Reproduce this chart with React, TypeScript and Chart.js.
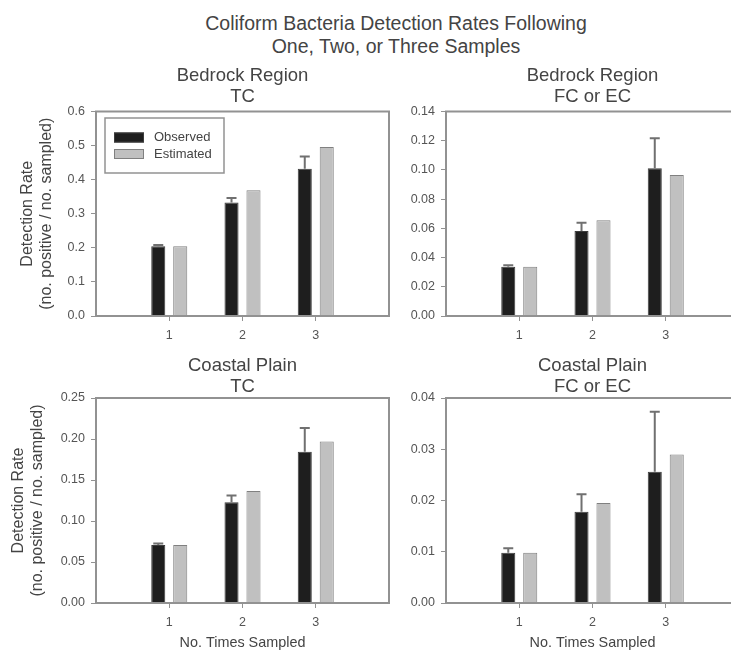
import React, { useEffect, useRef } from 'react';
import { Chart, registerables } from 'chart.js';

Chart.register(...registerables);

// ---------- data ----------
const categories = [1, 2, 3];
const seriesLabels = ['Observed', 'Estimated'];

const bedrockTcObserved = [0.205, 0.333, 0.432];
const bedrockTcObservedErr = [0.003, 0.013, 0.036];
const bedrockTcEstimated = [0.205, 0.369, 0.496];

const bedrockFcObserved = [0.0338, 0.0582, 0.1012];
const bedrockFcObservedErr = [0.001, 0.0057, 0.0205];
const bedrockFcEstimated = [0.0338, 0.0655, 0.0966];

const coastalTcObserved = [0.0706, 0.1228, 0.1843];
const coastalTcObservedErr = [0.002, 0.0082, 0.029];
const coastalTcEstimated = [0.0706, 0.1366, 0.197];

const coastalFcObserved = [0.0098, 0.0178, 0.0256];
const coastalFcObservedErr = [0.0009, 0.0034, 0.0117];
const coastalFcEstimated = [0.0098, 0.0195, 0.029];

const mainTitle = ['Coliform Bacteria Detection Rates Following', 'One, Two, or Three Samples'];
const panelTitles = [
  ['Bedrock Region', 'TC'],
  ['Bedrock Region', 'FC or EC'],
  ['Coastal Plain', 'TC'],
  ['Coastal Plain', 'FC or EC'],
];
const yAxisTitle = ['Detection Rate', '(no. positive / no. sampled)'];
const xAxisTitle = 'No. Times Sampled';

// ---------- style ----------
const FONT = '"Liberation Sans", Arial, Helvetica, sans-serif';
const TEXT = '#444444';
const TICK_TEXT = '#555555';
const AXIS = '#929292';
const ERR = '#707070';
const OBS_FILL = '#1e1e1e';
const OBS_BORDER = '#3c3c3c';
const EST_FILL = '#c0c0c0';
const EST_BORDER = '#808080';

type PanelProps = {
  left: number;
  top: number;
  width: number;
  height: number;
  title: string[];
  obs: number[];
  err: number[];
  est: number[];
  yMax: number;
  yStep: number;
  yDecimals: number;
  yAxisWidth: number;
  xAxisHeight: number;
  padRight: number;
  titlePadTop: number;
  titlePadBottom: number;
  showYTitle: boolean;
  yTitlePad: number;
  showXTitle: boolean;
  showLegend: boolean;
};

function Panel(p: PanelProps) {
  const ref = useRef<HTMLCanvasElement>(null);

  useEffect(() => {
    const canvas = ref.current;
    if (!canvas) return;

    const overlay = {
      id: 'overlay',
      afterDatasetsDraw(chart: any) {
        const { ctx, chartArea: a } = chart;
        ctx.save();
        // error bars on observed
        const meta = chart.getDatasetMeta(0);
        const ys = chart.scales.y;
        ctx.strokeStyle = ERR;
        ctx.lineWidth = 2;
        meta.data.forEach((el: any, i: number) => {
          const yTop = ys.getPixelForValue(p.obs[i] + p.err[i]);
          ctx.beginPath();
          ctx.moveTo(el.x, el.y);
          ctx.lineTo(el.x, yTop);
          ctx.moveTo(el.x - 5, yTop);
          ctx.lineTo(el.x + 5, yTop);
          ctx.stroke();
        });
        // frame
        ctx.strokeStyle = AXIS;
        ctx.lineWidth = 2;
        ctx.strokeRect(a.left, a.top, a.right - a.left, a.bottom - a.top);
        // legend
        if (p.showLegend) {
          const lx = a.left + 9;
          const ly = a.top + 6.5;
          ctx.lineWidth = 1.5;
          ctx.strokeStyle = AXIS;
          ctx.strokeRect(lx, ly, 119, 55);
          chart.data.datasets.forEach((ds: any, i: number) => {
            const cy = a.top + (i === 0 ? 26 : 42.5);
            ctx.fillStyle = ds.backgroundColor;
            ctx.fillRect(lx + 9, cy - 5, 30, 10);
            ctx.lineWidth = 1;
            ctx.strokeStyle = ds.borderColor;
            ctx.strokeRect(lx + 9.5, cy - 4.5, 29, 9);
            ctx.fillStyle = TEXT;
            ctx.font = `13px ${FONT}`;
            ctx.textBaseline = 'middle';
            ctx.textAlign = 'left';
            ctx.fillText(ds.label, lx + 49, cy);
          });
        }
        ctx.restore();
      },
    };

    const chart = new Chart(canvas, {
      type: 'bar',
      data: {
        datasets: [
          {
            label: seriesLabels[0],
            data: categories.map((c, i) => ({ x: c, y: p.obs[i] })),
            backgroundColor: OBS_FILL,
            borderColor: OBS_BORDER,
            borderWidth: 1,
            categoryPercentage: 0.6,
            barPercentage: 0.64,
          },
          {
            label: seriesLabels[1],
            data: categories.map((c, i) => ({ x: c, y: p.est[i] })),
            backgroundColor: EST_FILL,
            borderColor: EST_BORDER,
            borderWidth: 1,
            categoryPercentage: 0.6,
            barPercentage: 0.64,
          },
        ],
      } as any,
      options: {
        responsive: false,
        animation: false,
        devicePixelRatio: 1,
        layout: { padding: { left: 0, right: p.padRight, top: 0, bottom: 0 } },
        plugins: {
          legend: { display: false },
          tooltip: { enabled: false },
          title: {
            display: true,
            text: p.title,
            fullSize: false,
            color: TEXT,
            font: { family: FONT, size: 18.5, weight: 'normal', lineHeight: 21 / 18.5 },
            padding: { top: p.titlePadTop, bottom: p.titlePadBottom },
          },
        },
        scales: {
          x: {
            type: 'linear',
            min: 0,
            max: 4,
            offset: false,
            afterBuildTicks: (s: any) => {
              s.ticks = categories.map((v) => ({ value: v }));
            },
            afterFit: (s: any) => {
              s.height = p.xAxisHeight;
            },
            border: { display: false },
            grid: { drawOnChartArea: false, drawTicks: true, tickLength: 5, color: AXIS, lineWidth: 1, offset: false },
            ticks: {
              autoSkip: false,
              maxRotation: 0,
              padding: 7,
              color: TICK_TEXT,
              font: { family: FONT, size: 12.5 },
              callback: (v: any) => String(v),
            },
            title: {
              display: p.showXTitle,
              text: xAxisTitle,
              color: TEXT,
              font: { family: FONT, size: 14.4, lineHeight: 1 },
              padding: { top: 0, bottom: 0 },
            },
          },
          y: {
            type: 'linear',
            min: 0,
            max: p.yMax,
            afterFit: (s: any) => {
              s.width = p.yAxisWidth;
            },
            border: { display: false },
            grid: { drawOnChartArea: false, drawTicks: true, tickLength: 5, color: AXIS, lineWidth: 1 },
            ticks: {
              stepSize: p.yStep,
              padding: 6,
              color: TICK_TEXT,
              font: { family: FONT, size: 12.5 },
              callback: (v: any) => Number(v).toFixed(p.yDecimals),
            },
            title: {
              display: p.showYTitle,
              text: yAxisTitle,
              color: TEXT,
              font: { family: FONT, size: 16, lineHeight: 19 / 16 },
              padding: { top: p.yTitlePad, bottom: 0 },
            },
          },
        },
      } as any,
      plugins: [overlay],
    });

    return () => chart.destroy();
  }, []);

  return (
    <canvas
      ref={ref}
      width={p.width}
      height={p.height}
      style={{ position: 'absolute', left: p.left, top: p.top, width: p.width, height: p.height }}
    />
  );
}

export default function App() {
  return (
    <div
      style={{
        position: 'fixed',
        left: 0,
        top: 0,
        width: 731,
        height: 650,
        overflow: 'hidden',
        background: '#ffffff',
      }}
    >
      <div
        style={{
          position: 'absolute',
          left: 0,
          top: 11.5,
          width: 792,
          textAlign: 'center',
          fontFamily: FONT,
          fontSize: 19.5,
          lineHeight: '23px',
          color: TEXT,
        }}
      >
        {mainTitle.map((t) => (
          <div key={t}>{t}</div>
        ))}
      </div>
      <Panel
        left={0}
        top={50}
        width={395}
        height={295}
        title={panelTitles[0]}
        obs={bedrockTcObserved}
        err={bedrockTcObservedErr}
        est={bedrockTcEstimated}
        yMax={0.6}
        yStep={0.1}
        yDecimals={1}
        yAxisWidth={96}
        xAxisHeight={29}
        padRight={6}
        titlePadTop={15.5}
        titlePadBottom={4}
        showYTitle={true}
        yTitlePad={18.5}
        showXTitle={false}
        showLegend={true}
      />
      <Panel
        left={395}
        top={50}
        width={345}
        height={295}
        title={panelTitles[1]}
        obs={bedrockFcObserved}
        err={bedrockFcObservedErr}
        est={bedrockFcEstimated}
        yMax={0.14}
        yStep={0.02}
        yDecimals={2}
        yAxisWidth={51}
        xAxisHeight={29}
        padRight={1}
        titlePadTop={15.5}
        titlePadBottom={4}
        showYTitle={false}
        yTitlePad={0}
        showXTitle={false}
        showLegend={false}
      />
      <Panel
        left={0}
        top={345}
        width={395}
        height={305}
        title={panelTitles[2]}
        obs={coastalTcObserved}
        err={coastalTcObservedErr}
        est={coastalTcEstimated}
        yMax={0.25}
        yStep={0.05}
        yDecimals={2}
        yAxisWidth={96}
        xAxisHeight={47}
        padRight={6}
        titlePadTop={10}
        titlePadBottom={1}
        showYTitle={true}
        yTitlePad={9.5}
        showXTitle={true}
        showLegend={false}
      />
      <Panel
        left={395}
        top={345}
        width={345}
        height={305}
        title={panelTitles[3]}
        obs={coastalFcObserved}
        err={coastalFcObservedErr}
        est={coastalFcEstimated}
        yMax={0.04}
        yStep={0.01}
        yDecimals={2}
        yAxisWidth={51}
        xAxisHeight={47}
        padRight={1}
        titlePadTop={10}
        titlePadBottom={1}
        showYTitle={false}
        yTitlePad={0}
        showXTitle={true}
        showLegend={false}
      />
    </div>
  );
}
